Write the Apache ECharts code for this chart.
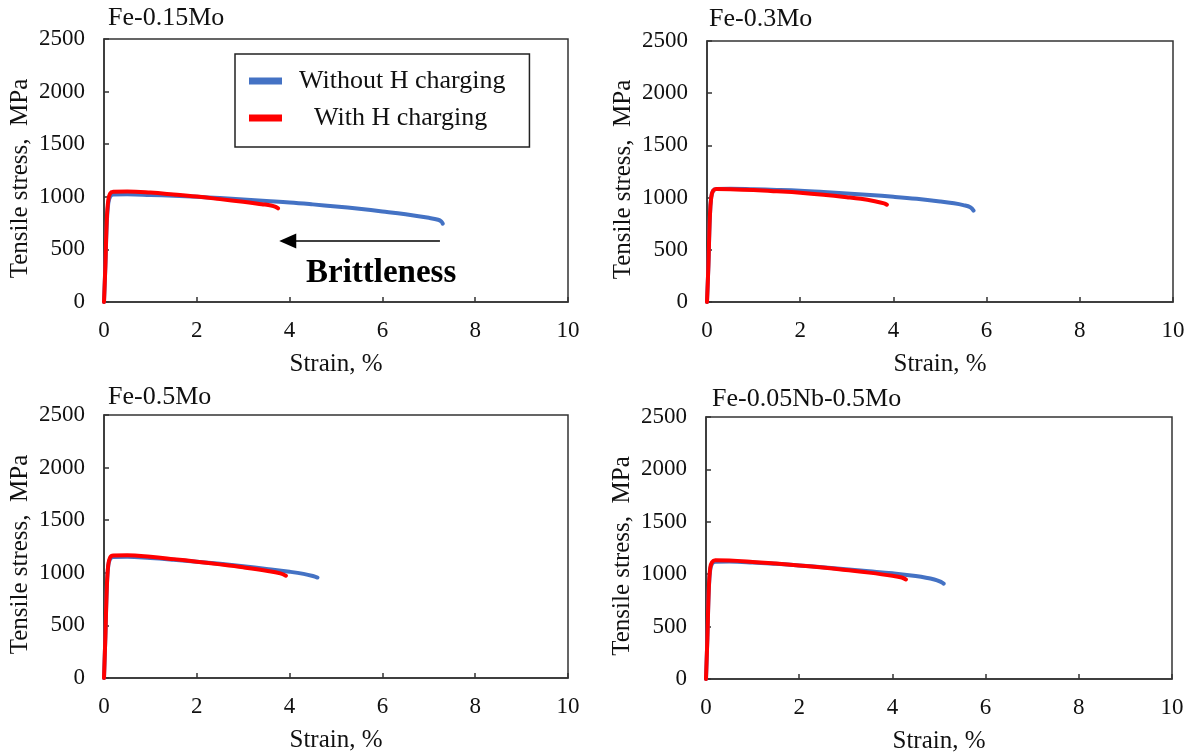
<!DOCTYPE html>
<html>
<head>
<meta charset="utf-8">
<script src="https://cdn.jsdelivr.net/npm/echarts@6/dist/echarts.min.js"></script>
<style>
html,body{margin:0;padding:0;background:#fff;}
#main{width:1197px;height:755px;}
</style>
</head>
<body>
<div id="main"></div>
<script>
// ---- Data (strain %, tensile stress MPa) ----
const panelTitles = ['Fe-0.15Mo', 'Fe-0.3Mo', 'Fe-0.5Mo', 'Fe-0.05Nb-0.5Mo'];
const seriesNames = ['Without H charging', 'With H charging'];
const xTicks = [0, 2, 4, 6, 8, 10];
const yTicks = [0, 500, 1000, 1500, 2000, 2500];

const mo015Without = [[0,0],[0.03,350],[0.06,750],[0.09,930],[0.13,1000],[0.2,1022],[0.5,1024],[1,1018],[1.5,1010],[2,1000],[2.5,988],[3,974],[3.5,960],[4,946],[4.5,928],[5,908],[5.5,886],[6,861],[6.5,834],[7,800],[7.2,782],[7.27,765],[7.3,745]];
const mo015With = [[0,0],[0.03,350],[0.06,780],[0.09,960],[0.13,1030],[0.2,1048],[0.5,1050],[1,1040],[1.5,1022],[2,1002],[2.5,978],[3,953],[3.4,930],[3.6,918],[3.7,905],[3.75,890]];

const mo03Without = [[0,0],[0.03,350],[0.06,800],[0.09,1000],[0.13,1065],[0.2,1083],[0.5,1085],[1,1080],[1.5,1074],[2,1066],[2.5,1054],[3,1040],[3.5,1025],[4,1008],[4.5,988],[5,963],[5.3,945],[5.5,928],[5.65,908],[5.72,875]];
const mo03With = [[0,0],[0.03,350],[0.06,800],[0.09,1000],[0.13,1065],[0.2,1082],[0.5,1080],[1,1072],[1.5,1060],[2,1046],[2.5,1027],[3,1004],[3.3,988],[3.6,965],[3.8,945],[3.86,932]];

const mo05Without = [[0,0],[0.03,400],[0.06,850],[0.09,1060],[0.13,1130],[0.2,1150],[0.5,1152],[1,1140],[1.5,1124],[2,1106],[2.5,1085],[3,1062],[3.5,1037],[4,1010],[4.3,990],[4.5,970],[4.6,955]];
const mo05With = [[0,0],[0.03,400],[0.06,850],[0.09,1070],[0.13,1145],[0.2,1165],[0.5,1166],[1,1152],[1.5,1130],[2,1106],[2.5,1080],[3,1052],[3.5,1020],[3.8,995],[3.92,972]];

const nbMoWithout = [[0,0],[0.03,400],[0.06,850],[0.09,1040],[0.13,1100],[0.2,1118],[0.5,1120],[1,1112],[1.5,1099],[2,1084],[2.5,1066],[3,1047],[3.5,1028],[4,1008],[4.5,982],[4.9,950],[5.05,925],[5.1,910]];
const nbMoWith = [[0,0],[0.03,400],[0.06,860],[0.09,1060],[0.13,1115],[0.2,1132],[0.5,1130],[1,1117],[1.5,1101],[2,1084],[2.5,1064],[3,1040],[3.5,1015],[4,985],[4.2,968],[4.29,950]];

const panelData = [[mo015Without, mo015With],[mo03Without, mo03With],[mo05Without, mo05With],[nbMoWithout, nbMoWith]];

// Brittleness arrow annotation (strain, stress): tail -> head
const arrowTail = [7.24, 580];
const arrowHead = [3.96, 580];
const annotationText = 'Brittleness';

// ---- Layout ----
const FONT = '"Liberation Serif", "Times New Roman", serif';
const grids = [
  {left:104, top:39, width:464, height:263},
  {left:707, top:41, width:466, height:261},
  {left:104, top:415, width:464, height:263},
  {left:706, top:417, width:466, height:263}
];
const titlePos = [
  {left:108, top:5},
  {left:709, top:6},
  {left:108, top:384},
  {left:712, top:386}
];
const colors = ['#4472C4', '#FF0000'];

const chart = echarts.init(document.getElementById('main'), null, {renderer:'canvas'});

const xAxes = grids.map((g,i)=>({
  gridIndex:i, type:'value', min:xTicks[0], max:xTicks[xTicks.length-1], interval:xTicks[1]-xTicks[0],
  name:'Strain, %', nameLocation:'middle', nameGap:50,
  nameTextStyle:{fontFamily:FONT, fontSize:25, color:'#111'},
  axisLine:{show:true, onZero:false, lineStyle:{color:'#333', width:1.5}},
  axisTick:{show:true, inside:true, length:5, lineStyle:{color:'#333', width:1.5}},
  axisLabel:{fontFamily:FONT, fontSize:23, color:'#111', margin:17},
  splitLine:{show:false}
}));
const yAxes = grids.map((g,i)=>({
  gridIndex:i, type:'value', min:yTicks[0], max:yTicks[yTicks.length-1], interval:yTicks[1]-yTicks[0],
  name:'Tensile stress,  MPa', nameLocation:'middle', nameGap:71,
  nameTextStyle:{fontFamily:FONT, fontSize:25, color:'#111', padding:[0,16,0,0]},
  axisLine:{show:true, onZero:false, lineStyle:{color:'#333', width:1.5}},
  axisTick:{show:true, inside:true, length:5, lineStyle:{color:'#333', width:1.5}},
  axisLabel:{fontFamily:FONT, fontSize:23, color:'#111', margin:19, formatter:function(v){return String(v);}},
  splitLine:{show:false}
}));

const series = [];
panelData.forEach((pair, i)=>{
  pair.forEach((data, k)=>{
    const s = {
      name: seriesNames[k], type:'line', xAxisIndex:i, yAxisIndex:i,
      data: data, showSymbol:false, symbol:'none', smooth:0.4,
      lineStyle:{color:colors[k], width:4, cap:'round', join:'round'}, itemStyle:{color:colors[k]},
      z: 2 + k, animation:false
    };
    if (i === 0 && k === 0) {
      s.markLine = {
        silent:true, animation:false,
        symbol:['none','triangle'], symbolSize:[15,17],
        lineStyle:{color:'#000', width:1.5, type:'solid'},
        label:{show:false},
        data:[[{coord:arrowTail},{coord:arrowHead}]]
      };
    }
    series.push(s);
  });
});

const titles = panelTitles.map((t,i)=>({
  text:t, left:titlePos[i].left, top:titlePos[i].top, padding:0,
  textStyle:{fontFamily:FONT, fontSize:26, fontWeight:'normal', color:'#111'}
}));
titles.push({
  text:annotationText, left:306, top:257, padding:0,
  textStyle:{fontFamily:FONT, fontSize:33, fontWeight:'bold', color:'#000'}
});

chart.setOption({
  animation:false,
  backgroundColor:'#fff',
  title: titles,
  grid: grids.map(g=>Object.assign({show:true, borderColor:'#333', borderWidth:1.5, backgroundColor:'transparent'}, g)),
  xAxis: xAxes,
  yAxis: yAxes,
  legend: {
    data: seriesNames, orient:'vertical', left:235, top:54,
    padding:[14,24,16,14], itemGap:11, itemWidth:33, itemHeight:7, icon:'rect',
    borderColor:'#222', borderWidth:1.5, backgroundColor:'#fff',
    selectedMode:false,
    formatter: function(name){ return name === seriesNames[1] ? '{b|' + name + '}' : '{a|' + name + '}'; },
    textStyle:{fontFamily:FONT, fontSize:26, color:'#111',
      rich:{a:{fontFamily:FONT, fontSize:26, padding:[0,0,0,12]}, b:{fontFamily:FONT, fontSize:26, padding:[0,0,0,27]}}}
  },
  series: series
});
</script>
</body>
</html>
